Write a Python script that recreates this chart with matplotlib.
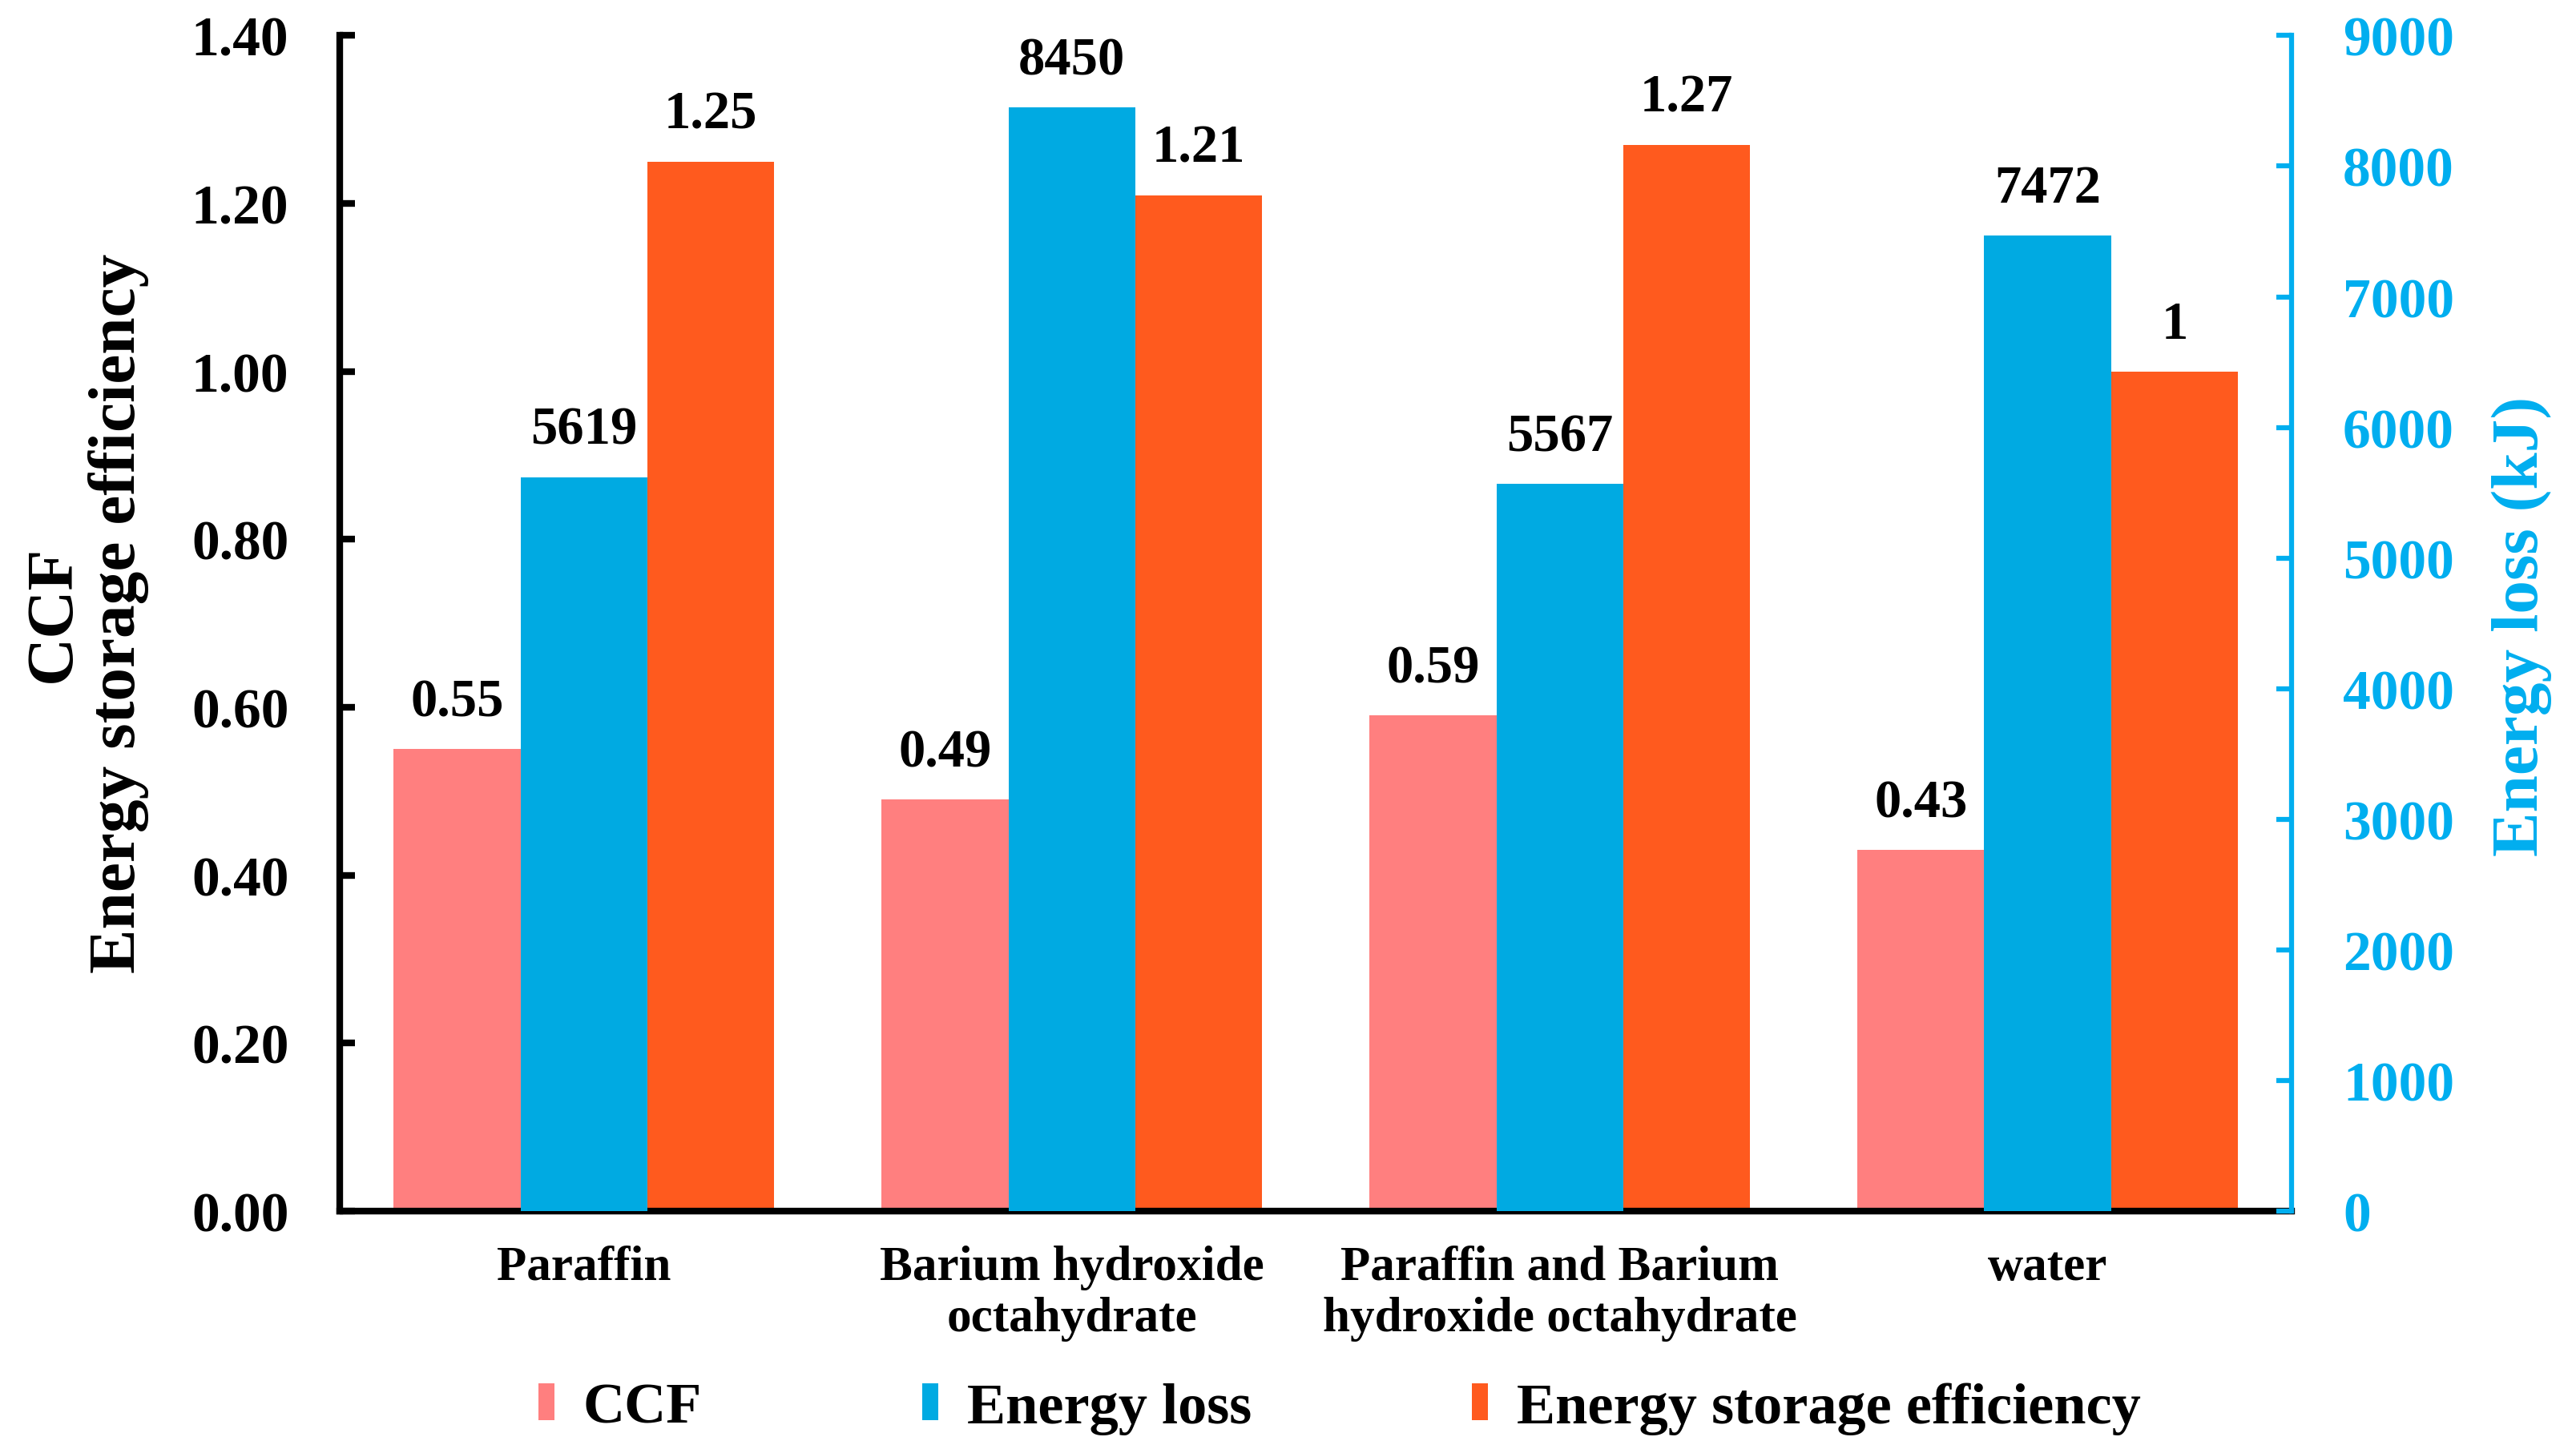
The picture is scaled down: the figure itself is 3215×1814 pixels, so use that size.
import matplotlib
matplotlib.use("Agg")
import matplotlib.pyplot as plt
import numpy as np

categories = ["Paraffin", "Barium hydroxide\noctahydrate",
              "Paraffin and Barium\nhydroxide octahydrate", "water"]
ccf = [0.55, 0.49, 0.59, 0.43]
energy_loss = [5619, 8450, 5567, 7472]
ese = [1.25, 1.21, 1.27, 1.0]
left_ticks = [0.0, 0.2, 0.4, 0.6, 0.8, 1.0, 1.2, 1.4]
right_ticks = [0, 1000, 2000, 3000, 4000, 5000, 6000, 7000, 8000, 9000]

c_ccf = "#FF7F7F"
c_el = "#00AAE2"
c_ese = "#FF5A1E"
c_axis = "#00AEEF"

plt.rcParams["font.family"] = ["Liberation Serif", "DejaVu Serif"]
plt.rcParams["font.weight"] = "bold"

fig = plt.figure(figsize=(32.15, 18.15), dpi=100)
ax = fig.add_axes([0.132, 0.1664, 0.7576, 0.8086])
ax2 = ax.twinx()

x = np.arange(len(categories))
w = 0.26

b1 = ax.bar(x - w, ccf, w, color=c_ccf, label="CCF", zorder=2)
b3 = ax.bar(x + w, ese, w, color=c_ese, label="Energy storage efficiency", zorder=2)
b2 = ax2.bar(x, energy_loss, w, color=c_el, label="Energy loss", zorder=2)

ax.set_xlim(-0.5, len(categories) - 0.5)
ax.set_ylim(0, 1.4)
ax2.set_ylim(0, 9000)
ax.set_yticks(left_ticks)
ax.set_yticklabels([f"{t:.2f}" for t in left_ticks])
ax2.set_yticks(right_ticks)
ax2.set_yticklabels([str(t) for t in right_ticks])
ax.set_xticks(x)
ax.set_xticklabels(categories, fontsize=44, fontweight="bold")

for a in (ax, ax2):
    a.spines["top"].set_visible(False)
ax.spines["right"].set_visible(False)
ax2.spines["left"].set_visible(False)
ax2.spines["bottom"].set_visible(False)
ax.spines["left"].set_linewidth(6)
ax.spines["bottom"].set_linewidth(6)
ax2.spines["right"].set_linewidth(4.5)
ax2.spines["right"].set_color(c_axis)

ax.tick_params(axis="y", direction="in", length=14, width=6, labelsize=50, pad=46)
ax.tick_params(axis="x", length=0, pad=30)
ax2.tick_params(axis="y", direction="in", length=14, width=4.5, labelsize=50,
                colors=c_axis, pad=46)

for rect, v in zip(b1, ccf):
    ax.annotate(f"{v:.2f}", (rect.get_x() + rect.get_width() / 2, rect.get_height()),
                xytext=(0, 20), textcoords="offset points", ha="center", va="bottom",
                fontsize=48, fontweight="bold")
for rect, v in zip(b3, ese):
    ax.annotate(f"{v:g}", (rect.get_x() + rect.get_width() / 2, rect.get_height()),
                xytext=(0, 20), textcoords="offset points", ha="center", va="bottom",
                fontsize=48, fontweight="bold")
for rect, v in zip(b2, energy_loss):
    ax2.annotate(f"{v}", (rect.get_x() + rect.get_width() / 2, rect.get_height()),
                 xytext=(0, 20), textcoords="offset points", ha="center", va="bottom",
                 fontsize=48, fontweight="bold")

fig.text(0.0336, 0.578, "CCF\nEnergy storage efficiency", rotation=90,
         ha="center", va="center", fontsize=60, fontweight="bold", linespacing=1.1)
fig.text(0.979, 0.569, "Energy loss (kJ)", rotation=90, ha="center", va="center",
         fontsize=60, fontweight="bold", color=c_axis)

fig.legend([b1, b2, b3], ["CCF", "Energy loss", "Energy storage efficiency"],
           loc="center", bbox_to_anchor=(0.52, 0.031), ncol=3, frameon=False,
           prop={"size": 52, "weight": "bold"}, handlelength=0.28, handleheight=0.6,
           handletextpad=0.5, columnspacing=3.8)

fig.savefig("out.png", dpi=100)
